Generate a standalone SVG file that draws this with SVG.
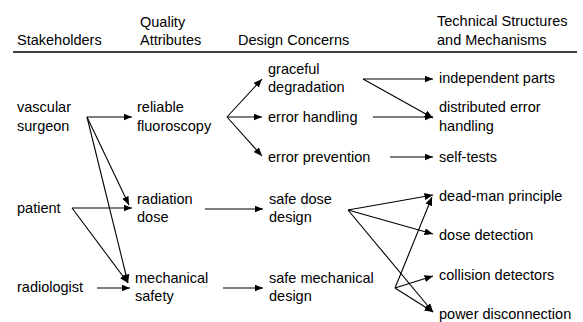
<svg xmlns="http://www.w3.org/2000/svg" width="583" height="322" viewBox="0 0 583 322">
<style>
text{font-family:"Liberation Sans",Arial,sans-serif;font-size:14.5px;fill:#000}
.c line{stroke:#000;stroke-width:1.1;marker-end:url(#ah)}
</style>
<defs>
<marker id="ah" markerUnits="userSpaceOnUse" markerWidth="9" markerHeight="7" refX="8.5" refY="3.5" orient="auto">
<path d="M0,0 L8.5,3.5 L0,7 z" fill="#000"/>
</marker>
</defs>
<rect width="583" height="322" fill="#fff"/>
<g id="header">
<text x="17" y="45">Stakeholders</text>
<text x="140" y="27">Quality</text>
<text x="140" y="45">Attributes</text>
<text x="238" y="45">Design Concerns</text>
<text x="437" y="26">Technical Structures</text>
<text x="437" y="45">and Mechanisms</text>
<line x1="13" y1="52" x2="577" y2="52" stroke="#000" stroke-width="1.5"/>
</g>
<g id="n-vascular"><text x="17" y="112">vascular</text><text x="17" y="131">surgeon</text></g>
<g id="n-patient"><text x="17" y="213">patient</text></g>
<g id="n-radiologist"><text x="17" y="292">radiologist</text></g>
<g id="n-reliable"><text x="137" y="112">reliable</text><text x="137" y="131">fluoroscopy</text></g>
<g id="n-radiation"><text x="137" y="204">radiation</text><text x="137" y="222">dose</text></g>
<g id="n-mechanical"><text x="135" y="283">mechanical</text><text x="135" y="301">safety</text></g>
<g id="n-graceful"><text x="268" y="74">graceful</text><text x="268" y="92">degradation</text></g>
<g id="n-errhandling"><text x="268" y="122">error handling</text></g>
<g id="n-errprevention"><text x="268" y="162">error prevention</text></g>
<g id="n-safedose"><text x="269" y="204">safe dose</text><text x="269" y="222">design</text></g>
<g id="n-safemech"><text x="269" y="283">safe mechanical</text><text x="269" y="301">design</text></g>
<g id="n-independent"><text x="439" y="83">independent parts</text></g>
<g id="n-distributed"><text x="439" y="112">distributed error</text><text x="439" y="131">handling</text></g>
<g id="n-selftests"><text x="439" y="162">self-tests</text></g>
<g id="n-deadman"><text x="439" y="201">dead-man principle</text></g>
<g id="n-dosedet"><text x="439" y="240">dose detection</text></g>
<g id="n-collision"><text x="439" y="280">collision detectors</text></g>
<g id="n-power"><text x="439" y="319">power disconnection</text></g>
<g id="connectors" class="c">
<line x1="87" y1="117" x2="132" y2="117"/>
<line x1="87" y1="117" x2="129" y2="205"/>
<line x1="87" y1="117" x2="128" y2="283"/>
<line x1="72" y1="208" x2="132" y2="208"/>
<line x1="72" y1="208" x2="128" y2="283"/>
<line x1="97" y1="288" x2="130" y2="288"/>
<line x1="227" y1="117" x2="262" y2="79"/>
<line x1="227" y1="117" x2="262" y2="117"/>
<line x1="227" y1="117" x2="262" y2="156"/>
<line x1="205" y1="209" x2="263" y2="209"/>
<line x1="223" y1="288" x2="263" y2="288"/>
<line x1="363" y1="79" x2="433" y2="79"/>
<line x1="363" y1="79" x2="433" y2="118"/>
<line x1="373" y1="117" x2="433" y2="117"/>
<line x1="390" y1="157" x2="433" y2="157"/>
<line x1="348" y1="210" x2="433" y2="195"/>
<line x1="348" y1="210" x2="433" y2="234"/>
<line x1="348" y1="210" x2="433" y2="312"/>
<line x1="395" y1="288" x2="432" y2="197"/>
<line x1="395" y1="288" x2="433" y2="276"/>
<line x1="395" y1="288" x2="433" y2="312"/>
</g>
</svg>
